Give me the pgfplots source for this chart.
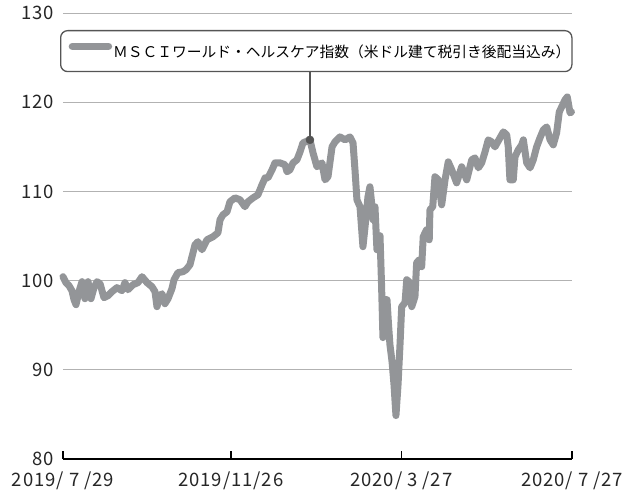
\documentclass[border=0pt]{standalone}
\usepackage{pgfplots}
\pgfplotsset{compat=1.18}
\usepackage{fontspec}
\setmainfont{Noto Sans CJK JP}
\newfontfamily\numfont[LetterSpace=5]{Noto Sans CJK JP}
\definecolor{linegray}{RGB}{147,149,152}
\definecolor{gridgray}{RGB}{178,178,178}
\definecolor{boxgray}{RGB}{85,85,85}
\newcommand{\pd}[1]{\makebox[1.1em][c]{#1}}
\begin{document}
\begin{tikzpicture}
\begin{axis}[
 name=ax,
 scale only axis, width=509pt, height=446pt,
 xmin=0, xmax=364, ymin=80, ymax=130,
 clip=false,
 axis x line*=bottom, axis y line*=left,
 y axis line style={draw=none},
 x axis line style={black, line width=1.5pt, -},
 xtick={0,120,242,364},
 xticklabels={2019/\pd{7}/29, 2019/11/26, 2020/\pd{3}/27, 2020/\pd{7}/27},
 ytick={80,90,...,130},
 ymajorgrids, grid style={gridgray, line width=0.8pt},
 xtick style={black, line width=1.5pt},
 ytick style={draw=none},
 tick align=inside, major tick length=8pt,
 ticklabel style={font=\numfont\fontsize{18.5}{20}\selectfont, /pgf/number format/assume math mode=true, text=black!85, inner sep=0pt, text height=13.5pt, text depth=0pt},
 xticklabel style={anchor=north, yshift=-14pt},
 yticklabel style={anchor=east, xshift=-9pt},
 legend style={at={(-0.00589,0.9619)}, anchor=north west, draw=boxgray, line width=1.3pt, rounded corners=7pt, fill=white,
   font=\fontsize{14.75}{17}\selectfont, inner xsep=1.5pt, inner ysep=12pt, column sep=0pt, row sep=0pt,
   nodes={inner sep=0pt, text height=13.2pt, text depth=1.8pt}},
 legend cell align=left,
 legend image code/.code={\path[draw=none] (0pt,0pt) -- (51pt,0pt); \draw[linegray, line width=7.5pt, line cap=round] (10.25pt,5.7pt) -- (46.25pt,5.7pt);},
]
\addplot[linegray, line width=7pt, line join=round, line cap=round] coordinates {
(0,100.44) (2.1,99.77) (4.3,99.43) (6.4,98.87) (7.9,97.86) (9.3,97.30) (11.4,98.76) (13.6,99.88)
(15.7,97.97) (17.9,99.88) (20.0,97.97) (22.2,99.21) (24.3,99.88) (26.5,99.65) (29.3,98.09) (32.2,98.31)
(35.0,98.76) (38.6,99.21) (42.2,98.87) (44.3,99.77) (46.5,98.98) (50.1,99.54) (53.6,99.77) (56.5,100.44)
(60.1,99.77) (63.6,99.32) (65.8,98.76) (67.2,97.08) (69.4,98.31) (70.8,98.53) (72.9,97.41) (75.1,97.97)
(77.9,99.09) (79.4,100.10) (82.2,100.89) (85.8,101.00) (88.0,101.22) (90.8,101.78) (94.4,104.02) (96.5,104.36)
(99.4,103.46) (103.0,104.58) (107.3,104.92) (110.8,105.36) (112.3,106.82) (114.4,107.38) (117.3,107.72) (119.4,108.84)
(123.0,109.28) (126.6,109.06) (130.1,108.28) (132.3,108.84) (135.9,109.28) (139.4,109.62) (142.3,110.74) (144.5,111.52)
(146.6,111.52) (149.5,112.42) (151.6,113.20) (155.2,113.20) (158.8,112.98) (160.2,112.20) (162.3,112.42) (164.5,113.20)
(167.3,113.54) (169.5,114.43) (171.6,115.44) (176.6,115.78) (178.8,114.32) (181.6,112.76) (185.2,113.20) (187.4,111.30)
(189.5,111.64) (192.4,114.99) (194.5,115.55) (198.1,116.11) (201.7,115.78) (205.2,116.11) (207.4,115.44) (208.8,112.42)
(210.2,109.06) (212.4,108.28) (214.5,103.80) (216.0,106.04) (218.1,109.40) (219.5,110.52) (221.0,108.28) (221.7,106.82)
(223.1,108.28) (224.5,103.46) (226.7,105.03) (227.8,99.54) (228.8,93.61) (229.9,97.86) (231.7,97.86) (232.8,95.06)
(233.8,92.82) (235.3,90.92) (236.7,88.34) (238.1,84.87) (239.6,88.34) (241.0,92.82) (242.2,97.08) (244.6,97.53)
(245.8,100.10) (248.1,99.77) (249.4,97.08) (251.7,98.20) (252.9,102.00) (254.8,102.34) (256.5,101.56) (257.6,104.92)
(260.0,105.70) (261.9,104.58) (262.4,107.94) (264.4,108.28) (266.0,111.64) (268.4,111.30) (270.8,108.50) (273.2,111.30)
(275.5,113.31) (278.0,112.42) (281.5,110.96) (285.1,112.76) (288.7,111.30) (292.3,113.54) (294.6,113.76) (297.0,112.64)
(299.4,113.20) (301.8,114.43) (304.1,115.78) (306.6,115.55) (308.9,114.99) (312.5,116.00) (314.9,116.67) (317.3,116.34)
(318.4,114.99) (319.6,111.30) (322.0,111.30) (323.2,113.87) (325.6,114.66) (328.0,115.22) (329.2,115.78) (331.6,113.20)
(334.0,112.64) (336.3,113.54) (338.7,114.99) (341.1,116.00) (343.5,116.90) (345.9,117.23) (348.3,115.78) (350.6,115.22)
(353.0,116.56) (354.9,118.91) (356.6,119.47) (359.0,120.26) (360.6,120.59) (362.6,118.80) (363.6,118.91)
};
\addlegendentry{ＭＳＣＩワールド・ヘルスケア指数（米ドル建て税引き後配当込み）}
\addplot[boxgray, line width=1.2pt, forget plot] coordinates {(176.6,115.78) (176.6,123.73)};
\addplot[boxgray, only marks, mark=*, mark size=4pt, forget plot] coordinates {(176.6,115.78)};
\end{axis}
\pgfresetboundingbox
\path ([shift={(-63pt,-37pt)}]ax.south west) rectangle ([shift={(57pt,13pt)}]ax.north east);
\end{tikzpicture}
\end{document}
